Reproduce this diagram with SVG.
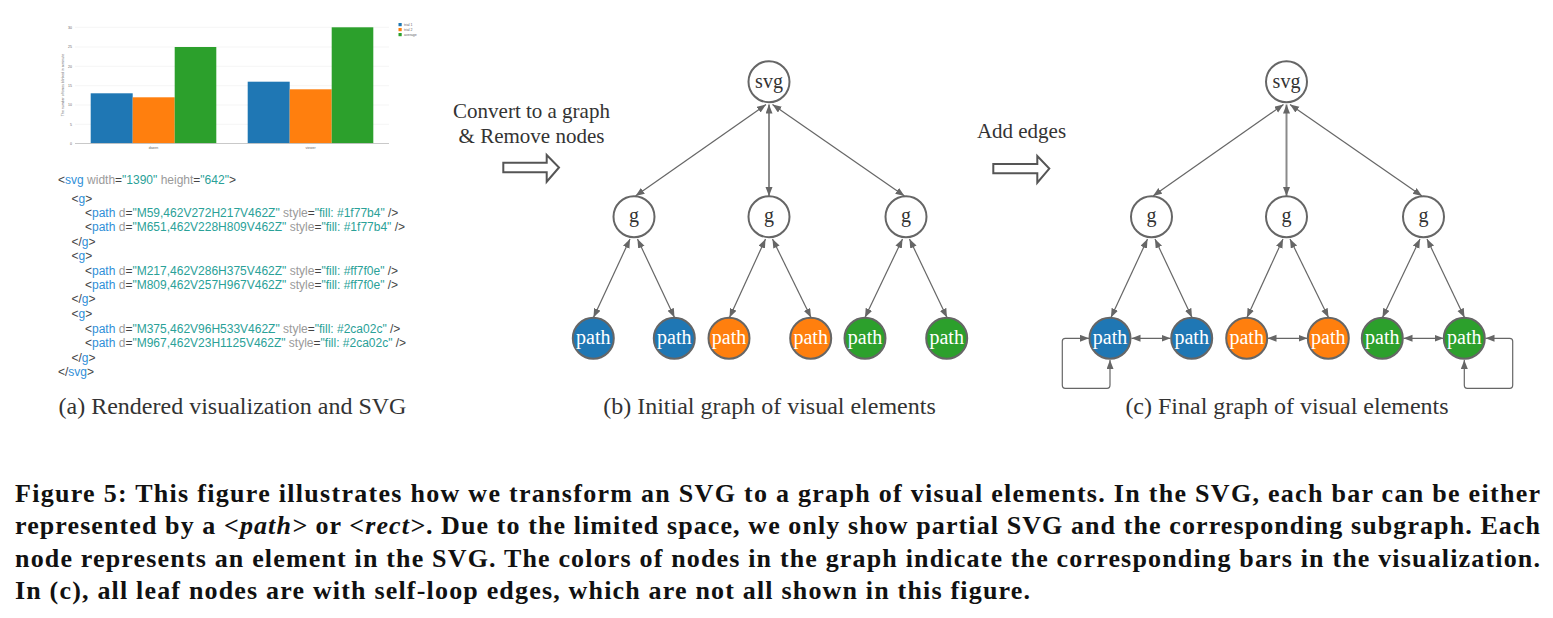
<svg xmlns="http://www.w3.org/2000/svg" width="1553" height="618" viewBox="0 0 1553 618">
<style>
.code{font-family:"Liberation Sans",Arial,sans-serif;font-size:12px;fill:#444}
.tg{fill:#2f8fd8}.at{fill:#9a9a9a}.vl{fill:#2aa198}
.ser{font-family:"Liberation Serif","Times New Roman",serif}
.lbl{font-family:"Liberation Serif","Times New Roman",serif;font-size:20px;fill:#333;text-anchor:middle}
.nw{fill:#fff;stroke:#666;stroke-width:2}
.nb{fill:#1f77b4;stroke:#666;stroke-width:2}
.no{fill:#ff7f0e;stroke:#666;stroke-width:2}
.ng{fill:#2ca02c;stroke:#666;stroke-width:2}
.wt{fill:#fff}
.e{fill:none;stroke:#666;stroke-width:1.2;marker-start:url(#ah);marker-end:url(#ah)}
.em{fill:none;stroke:#8a8a8a;stroke-width:2;marker-start:url(#ah);marker-end:url(#ah)}
.cap{font-family:"Liberation Serif","Times New Roman",serif;font-weight:bold;font-size:26px;fill:#111}
.tiny{font-family:"Liberation Sans",Arial,sans-serif;font-size:3.5px;fill:#666}
.grid{stroke:#eee;stroke-width:0.6}
</style>
<defs>
<marker id="ah" markerUnits="userSpaceOnUse" markerWidth="10" markerHeight="8" refX="9" refY="3.5" orient="auto-start-reverse" viewBox="0 0 10 8">
<path d="M0,0 L9,3.5 L0,7 z" fill="#666"/>
</marker>
</defs>
<rect width="1553" height="618" fill="#fff"/>

<!-- (a) chart -->
<g id="chart">
<line class="grid" x1="75" y1="27.3" x2="389" y2="27.3"/>
<line class="grid" x1="75" y1="47" x2="389" y2="47"/>
<line class="grid" x1="75" y1="66.3" x2="389" y2="66.3"/>
<line class="grid" x1="75" y1="85.7" x2="389" y2="85.7"/>
<line class="grid" x1="75" y1="105" x2="389" y2="105"/>
<line class="grid" x1="75" y1="124.3" x2="389" y2="124.3"/>
<rect x="90.7" y="93.3" width="42" height="50" fill="#1f77b4"/>
<rect x="132.7" y="97.3" width="42" height="46" fill="#ff7f0e"/>
<rect x="174.7" y="47" width="41.6" height="96.3" fill="#2ca02c"/>
<rect x="247.7" y="81.7" width="42" height="61.6" fill="#1f77b4"/>
<rect x="289.7" y="89.3" width="42" height="54" fill="#ff7f0e"/>
<rect x="331.7" y="27.3" width="41.6" height="116" fill="#2ca02c"/>
<line x1="75" y1="143.5" x2="389" y2="143.5" stroke="#bbb" stroke-width="0.8"/>
<text class="tiny" x="72" y="28.5" text-anchor="end">30</text>
<text class="tiny" x="72" y="48.2" text-anchor="end">25</text>
<text class="tiny" x="72" y="67.5" text-anchor="end">20</text>
<text class="tiny" x="72" y="86.9" text-anchor="end">15</text>
<text class="tiny" x="72" y="106.2" text-anchor="end">10</text>
<text class="tiny" x="72" y="125.5" text-anchor="end">5</text>
<text class="tiny" x="72" y="144.7" text-anchor="end">0</text>
<text class="tiny" x="153.5" y="148.5" text-anchor="middle">dozen</text>
<text class="tiny" x="310.5" y="148.5" text-anchor="middle">viewer</text>
<text class="tiny" transform="translate(64,85) rotate(-90)" text-anchor="middle">The number of times blinked in a minute</text>
<rect x="398.5" y="23" width="3.2" height="3.2" fill="#1f77b4"/>
<rect x="398.5" y="28" width="3.2" height="3.2" fill="#ff7f0e"/>
<rect x="398.5" y="33" width="3.2" height="3.2" fill="#2ca02c"/>
<text class="tiny" x="404" y="26">trial 1</text>
<text class="tiny" x="404" y="31">trial 2</text>
<text class="tiny" x="404" y="36">average</text>
</g>

<!-- (a) code -->
<g id="code">
<text class="code" x="58" y="184">&lt;<tspan class="tg">svg</tspan> <tspan class="at">width</tspan>=<tspan class="vl">"1390"</tspan> <tspan class="at">height</tspan>=<tspan class="vl">"642"</tspan>&gt;</text>
<text class="code" x="71.5" y="202.5">&lt;<tspan class="tg">g</tspan>&gt;</text>
<text class="code" x="85" y="216.8">&lt;<tspan class="tg">path</tspan> <tspan class="at">d</tspan>=<tspan class="vl">"M59,462V272H217V462Z"</tspan> <tspan class="at">style</tspan>=<tspan class="vl">"fill: #1f77b4"</tspan> /&gt;</text>
<text class="code" x="85" y="231.3">&lt;<tspan class="tg">path</tspan> <tspan class="at">d</tspan>=<tspan class="vl">"M651,462V228H809V462Z"</tspan> <tspan class="at">style</tspan>=<tspan class="vl">"fill: #1f77b4"</tspan> /&gt;</text>
<text class="code" x="71.5" y="245.7">&lt;/<tspan class="tg">g</tspan>&gt;</text>
<text class="code" x="71.5" y="260">&lt;<tspan class="tg">g</tspan>&gt;</text>
<text class="code" x="85" y="274.5">&lt;<tspan class="tg">path</tspan> <tspan class="at">d</tspan>=<tspan class="vl">"M217,462V286H375V462Z"</tspan> <tspan class="at">style</tspan>=<tspan class="vl">"fill: #ff7f0e"</tspan> /&gt;</text>
<text class="code" x="85" y="289">&lt;<tspan class="tg">path</tspan> <tspan class="at">d</tspan>=<tspan class="vl">"M809,462V257H967V462Z"</tspan> <tspan class="at">style</tspan>=<tspan class="vl">"fill: #ff7f0e"</tspan> /&gt;</text>
<text class="code" x="71.5" y="303.4">&lt;/<tspan class="tg">g</tspan>&gt;</text>
<text class="code" x="71.5" y="317.8">&lt;<tspan class="tg">g</tspan>&gt;</text>
<text class="code" x="85" y="332.5">&lt;<tspan class="tg">path</tspan> <tspan class="at">d</tspan>=<tspan class="vl">"M375,462V96H533V462Z"</tspan> <tspan class="at">style</tspan>=<tspan class="vl">"fill: #2ca02c"</tspan> /&gt;</text>
<text class="code" x="85" y="347">&lt;<tspan class="tg">path</tspan> <tspan class="at">d</tspan>=<tspan class="vl">"M967,462V23H1125V462Z"</tspan> <tspan class="at">style</tspan>=<tspan class="vl">"fill: #2ca02c"</tspan> /&gt;</text>
<text class="code" x="71.5" y="361.5">&lt;/<tspan class="tg">g</tspan>&gt;</text>
<text class="code" x="58" y="376">&lt;/<tspan class="tg">svg</tspan>&gt;</text>
</g>

<!-- transitions -->
<g id="step1">
<text class="ser" x="531.5" y="118" font-size="21" fill="#333" text-anchor="middle">Convert to a graph</text>
<text class="ser" x="531.5" y="142.5" font-size="21" fill="#333" text-anchor="middle">&amp; Remove nodes</text>
<path d="M503.3,162.7 H546.7 V155 L559,167.5 L546.7,181.7 V172.3 H503.3 Z" fill="#fff" stroke="#555" stroke-width="2" stroke-linejoin="miter"/>
</g>
<g id="step2">
<text class="ser" x="1021.5" y="138" font-size="21" fill="#333" text-anchor="middle">Add edges</text>
<path d="M993.3,164 H1037.3 V156 L1049.3,168.6 L1037.3,182.7 V173.3 H993.3 Z" fill="#fff" stroke="#555" stroke-width="2"/>
</g>

<!-- connectors -->
<g id="connectors">
<!-- (b) -->
<path class="e" d="M766,104.5 L635.5,196"/>
<path class="em" d="M769,104.5 L769,196"/>
<path class="e" d="M772.5,104.5 L904.5,196"/>
<path class="e" d="M630,239 L593.5,317.5"/>
<path class="e" d="M637.5,239 L674.5,317.5"/>
<path class="e" d="M765.5,239 L729.5,317.5"/>
<path class="e" d="M772.5,239 L811,317.5"/>
<path class="e" d="M902.5,239 L865,317.5"/>
<path class="e" d="M909.5,239 L947,317.5"/>
<!-- (c) -->
<path class="e" d="M1283.5,104.5 L1153,196"/>
<path class="em" d="M1286.5,104.5 L1286.5,196"/>
<path class="e" d="M1290,104.5 L1422,196"/>
<path class="e" d="M1147.5,239 L1111,317.5"/>
<path class="e" d="M1155,239 L1192,317.5"/>
<path class="e" d="M1283,239 L1247,317.5"/>
<path class="e" d="M1290,239 L1328.5,317.5"/>
<path class="e" d="M1420,239 L1382.5,317.5"/>
<path class="e" d="M1427,239 L1464.5,317.5"/>
<path class="e" d="M1131.5,338.3 L1170.5,338.3"/>
<path class="e" d="M1267.5,338.3 L1307.5,338.3"/>
<path class="e" d="M1403.5,338.3 L1443.5,338.3"/>
<path class="e" d="M1110,360 V385 Q1110,388.3 1107,388.3 H1065.3 Q1062.3,388.3 1062.3,385 V341.3 Q1062.3,338.3 1065.3,338.3 H1089"/>
<path class="e" d="M1485.5,338.3 H1509.7 Q1512.7,338.3 1512.7,341.3 V385 Q1512.7,388.3 1509.7,388.3 H1467.3 Q1464.3,388.3 1464.3,385 V360"/>
</g>

<!-- (b) nodes -->
<g id="b-svg"><circle class="nw" cx="769" cy="81.7" r="20.5"/><text class="lbl" x="769" y="87.5">svg</text></g>
<g id="b-g1"><circle class="nw" cx="634" cy="216.7" r="20.5"/><text class="lbl" x="634" y="222">g</text></g>
<g id="b-g2"><circle class="nw" cx="769" cy="216.7" r="20.5"/><text class="lbl" x="769" y="222">g</text></g>
<g id="b-g3"><circle class="nw" cx="906" cy="216.7" r="20.5"/><text class="lbl" x="906" y="222">g</text></g>
<g id="b-p1"><circle class="nb" cx="593.3" cy="338.3" r="20.5"/><text class="lbl wt" x="593.3" y="344">path</text></g>
<g id="b-p2"><circle class="nb" cx="674.3" cy="338.3" r="20.5"/><text class="lbl wt" x="674.3" y="344">path</text></g>
<g id="b-p3"><circle class="no" cx="729" cy="338.3" r="20.5"/><text class="lbl wt" x="729" y="344">path</text></g>
<g id="b-p4"><circle class="no" cx="810.7" cy="338.3" r="20.5"/><text class="lbl wt" x="810.7" y="344">path</text></g>
<g id="b-p5"><circle class="ng" cx="865" cy="338.3" r="20.5"/><text class="lbl wt" x="865" y="344">path</text></g>
<g id="b-p6"><circle class="ng" cx="946.7" cy="338.3" r="20.5"/><text class="lbl wt" x="946.7" y="344">path</text></g>

<!-- (c) nodes -->
<g id="c-svg"><circle class="nw" cx="1286.5" cy="81.7" r="20.5"/><text class="lbl" x="1286.5" y="87.5">svg</text></g>
<g id="c-g1"><circle class="nw" cx="1151.5" cy="216.7" r="20.5"/><text class="lbl" x="1151.5" y="222">g</text></g>
<g id="c-g2"><circle class="nw" cx="1286.5" cy="216.7" r="20.5"/><text class="lbl" x="1286.5" y="222">g</text></g>
<g id="c-g3"><circle class="nw" cx="1423.5" cy="216.7" r="20.5"/><text class="lbl" x="1423.5" y="222">g</text></g>
<g id="c-p1"><circle class="nb" cx="1110" cy="338.3" r="20.5"/><text class="lbl wt" x="1110" y="344">path</text></g>
<g id="c-p2"><circle class="nb" cx="1191.7" cy="338.3" r="20.5"/><text class="lbl wt" x="1191.7" y="344">path</text></g>
<g id="c-p3"><circle class="no" cx="1246.7" cy="338.3" r="20.5"/><text class="lbl wt" x="1246.7" y="344">path</text></g>
<g id="c-p4"><circle class="no" cx="1328.3" cy="338.3" r="20.5"/><text class="lbl wt" x="1328.3" y="344">path</text></g>
<g id="c-p5"><circle class="ng" cx="1382.3" cy="338.3" r="20.5"/><text class="lbl wt" x="1382.3" y="344">path</text></g>
<g id="c-p6"><circle class="ng" cx="1464.3" cy="338.3" r="20.5"/><text class="lbl wt" x="1464.3" y="344">path</text></g>

<!-- subcaptions -->
<g id="subcaptions">
<text class="ser" x="232.5" y="413.5" font-size="24" fill="#333" text-anchor="middle">(a) Rendered visualization and SVG</text>
<text class="ser" x="769.5" y="413.5" font-size="24" fill="#333" text-anchor="middle">(b) Initial graph of visual elements</text>
<text class="ser" x="1287" y="413.5" font-size="24" fill="#333" text-anchor="middle">(c) Final graph of visual elements</text>
</g>

<!-- caption -->
<g id="caption">
<text class="cap" x="15" y="501.5" textLength="1525" lengthAdjust="spacing">Figure 5: This figure illustrates how we transform an SVG to a graph of visual elements. In the SVG, each bar can be either</text>
<text class="cap" x="15" y="534" textLength="1525" lengthAdjust="spacing">represented by a <tspan font-style="italic">&lt;path&gt;</tspan> or <tspan font-style="italic">&lt;rect&gt;</tspan>. Due to the limited space, we only show partial SVG and the corresponding subgraph. Each</text>
<text class="cap" x="15" y="566.5" textLength="1525" lengthAdjust="spacing">node represents an element in the SVG. The colors of nodes in the graph indicate the corresponding bars in the visualization.</text>
<text class="cap" x="15" y="599" textLength="1015" lengthAdjust="spacing">In (c), all leaf nodes are with self-loop edges, which are not all shown in this figure.</text>
</g>
</svg>
